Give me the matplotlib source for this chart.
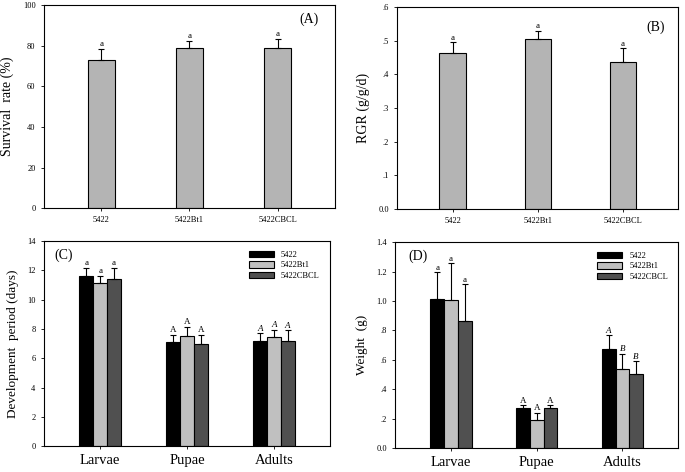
import numpy as np
import matplotlib
matplotlib.use('Agg')
import matplotlib.pyplot as plt

plt.rcParams['font.family'] = ['Liberation Serif', 'DejaVu Serif']

# Panel A / B: single series
strains = ['5422', '5422Bt1', '5422CBCL']
survival = [73.0, 79.0, 79.0]
survival_err = [5.5, 3.5, 4.5]
survival_sig = ['a', 'a', 'a']
rgr = [0.465, 0.505, 0.437]
rgr_err = [0.030, 0.025, 0.040]
rgr_sig = ['a', 'a', 'a']

# Panel C / D: grouped by stage
stages = ['Larvae', 'Pupae', 'Adults']
dev_5422 = [11.6, 7.1, 7.2]
dev_bt1 = [11.15, 7.55, 7.45]
dev_cbcl = [11.4, 7.0, 7.2]
dev_err_5422 = [0.6, 0.5, 0.5]
dev_err_bt1 = [0.5, 0.6, 0.5]
dev_err_cbcl = [0.8, 0.6, 0.7]
dev_sig = [['a', 'a', 'a'], ['A', 'A', 'A'], ['A', 'A', 'A']]

wt_5422 = [1.015, 0.27, 0.675]
wt_bt1 = [1.005, 0.19, 0.54]
wt_cbcl = [0.865, 0.27, 0.50]
wt_err_5422 = [0.18, 0.02, 0.09]
wt_err_bt1 = [0.25, 0.05, 0.10]
wt_err_cbcl = [0.25, 0.02, 0.09]
wt_sig = [['a', 'a', 'a'], ['A', 'A', 'A'], ['A', 'B', 'B']]

colors3 = ['#000000', '#c0c0c0', '#505050']
single_color = '#b4b4b4'


def style_axes(ax):
    for s in ax.spines.values():
        s.set_linewidth(0.8)
    ax.tick_params(axis='both', direction='out', length=2.5, width=0.6, labelsize=6)


def single_panel(ax, vals, errs, sig, ymax, yticks, yticklabels, ylabel, tag, tagpos):
    x = np.arange(len(strains))
    ax.bar(x, vals, width=0.31, color=single_color, edgecolor='black', linewidth=0.8)
    ax.errorbar(x, vals, yerr=[np.zeros(len(vals)), errs], fmt='none', ecolor='black',
                elinewidth=0.8, capsize=2.5, capthick=0.8)
    for xi, v, e, s in zip(x, vals, errs, sig):
        ax.text(xi, v + e + ymax * 0.004, s, ha='center', va='bottom', fontsize=6.5)
    ax.set_xlim(-0.65, 2.65)
    ax.set_ylim(0, ymax)
    ax.set_xticks(x)
    ax.set_xticklabels(strains)
    ax.set_yticks(yticks)
    ax.set_yticklabels(yticklabels)
    ax.set_ylabel(ylabel, fontsize=10, labelpad=6)
    ax.text(tagpos[0], tagpos[1], tag, transform=ax.transAxes, fontsize=10, ha='center', va='center')
    style_axes(ax)


def group_panel(ax, series, errs, sig, ymax, yticks, yticklabels, ylabel, tag, tagpos):
    x = np.arange(len(stages))
    w = 0.16
    labels = strains
    for i, (vals, err) in enumerate(zip(series, errs)):
        xi = x + (i - 1) * w
        ax.bar(xi, vals, width=w, color=colors3[i], edgecolor='black', linewidth=0.8, label=labels[i])
        ax.errorbar(xi, vals, yerr=[np.zeros(len(vals)), err], fmt='none', ecolor='black',
                    elinewidth=0.8, capsize=2, capthick=0.8)
        for j in range(len(stages)):
            style = 'italic' if (j == 2) else 'normal'
            ax.text(xi[j], vals[j] + err[j] + ymax * 0.002, sig[j][i], ha='center', va='bottom',
                    fontsize=6.5, style=style)
    ax.set_xlim(-0.65, 2.65)
    ax.set_ylim(0, ymax)
    ax.set_xticks(x)
    ax.set_xticklabels(stages)
    ax.set_yticks(yticks)
    ax.set_yticklabels(yticklabels)
    ax.set_ylabel(ylabel, fontsize=9.5, labelpad=6)
    ax.text(tagpos[0], tagpos[1], tag, transform=ax.transAxes, fontsize=10, ha='center', va='center')
    style_axes(ax)
    ax.tick_params(axis='x', labelsize=10.5)
    ax.legend(loc='upper right', frameon=False, fontsize=6, handlelength=3.0, handleheight=0.8,
              labelspacing=0.3, bbox_to_anchor=(0.99, 0.99))


fig = plt.figure(figsize=(6.85, 4.72), dpi=100)
ax_a = fig.add_axes([0.064, 0.559, 0.425, 0.430])
ax_b = fig.add_axes([0.580, 0.557, 0.410, 0.428])
ax_c = fig.add_axes([0.064, 0.055, 0.418, 0.434])
ax_d = fig.add_axes([0.577, 0.051, 0.413, 0.436])

single_panel(ax_a, survival, survival_err, survival_sig, 100, [0, 20, 40, 60, 80, 100],
             ['0', '20', '40', '60', '80', '100'], 'Survival  rate (%)', '(A)', (0.91, 0.93))
single_panel(ax_b, rgr, rgr_err, rgr_sig, 0.6, [0, 0.1, 0.2, 0.3, 0.4, 0.5, 0.6],
             ['0.0', '.1', '.2', '.3', '.4', '.5', '.6'], 'RGR (g/g/d)', '(B)', (0.92, 0.90))
group_panel(ax_c, [dev_5422, dev_bt1, dev_cbcl], [dev_err_5422, dev_err_bt1, dev_err_cbcl], dev_sig,
            14, [0, 2, 4, 6, 8, 10, 12, 14], ['0', '2', '4', '6', '8', '10', '12', '14'],
            'Development  period (days)', '(C)', (0.07, 0.93))
group_panel(ax_d, [wt_5422, wt_bt1, wt_cbcl], [wt_err_5422, wt_err_bt1, wt_err_cbcl], wt_sig,
            1.4, [0, 0.2, 0.4, 0.6, 0.8, 1.0, 1.2, 1.4],
            ['0.0', '.2', '.4', '.6', '.8', '1.0', '1.2', '1.4'], 'Weight  (g)', '(D)', (0.08, 0.93))

fig.savefig('out.png', dpi=100)
